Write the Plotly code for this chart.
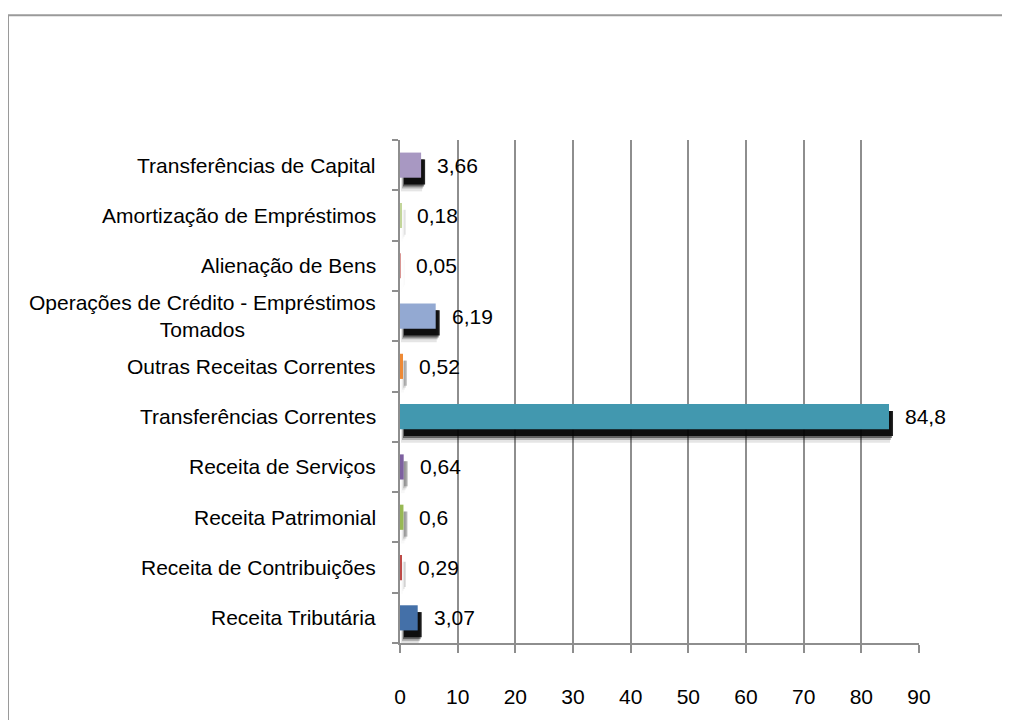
import plotly.graph_objects as go

categories = [
    "Receita Tributária",
    "Receita de Contribuições",
    "Receita Patrimonial",
    "Receita de Serviços",
    "Transferências Correntes",
    "Outras Receitas Correntes",
    "Operações de Crédito - Empréstimos<br>Tomados",
    "Alienação de Bens",
    "Amortização de Empréstimos",
    "Transferências de Capital",
]
values = [3.07, 0.29, 0.6, 0.64, 84.8, 0.52, 6.19, 0.05, 0.18, 3.66]
colors = ["#4470A8", "#BE4B48", "#98B954", "#7D60A0", "#4298AF",
          "#EE8A36", "#93A9D2", "#D99694", "#C3D69B", "#A898C2"]
x_ticks = [0, 10, 20, 30, 40, 50, 60, 70, 80, 90]

# page body margin of 8px is compensated here
W, H = 1002, 712
L, T = 392, 132
pw, ph = 519, 516
R = W - L - pw
B = H - T - ph
ux = 90 / pw               # data units per pixel (x)
uy = len(categories) / ph  # category units per pixel (y)

bar_w = 0.5
fig = go.Figure()

# soft (blurred-looking) shadow: narrow bars get a fainter shadow
strength = [min(1.0, (v / ux) / 12.0) for v in values]
shadow_layers = [
    (11, 3, 0.10), (9, 2, 0.22), (8, 1, 0.45), (7, 0, 0.85),
]
for dy, grow, op in shadow_layers:
    fig.add_trace(go.Bar(
        y=categories, x=values, orientation="h",
        base=[(4 - grow) * ux] * len(values),
        width=bar_w + 2 * grow * uy,
        offset=-bar_w / 2 - dy * uy - grow * uy,
        marker=dict(color="black", line=dict(width=0),
                    opacity=[op * s for s in strength]),
        hoverinfo="skip", showlegend=False,
    ))

fig.add_trace(go.Bar(
    y=categories, x=values, orientation="h",
    width=bar_w,
    marker=dict(color=colors, line=dict(width=0)),
    showlegend=False,
))

font_lab = dict(family="Liberation Sans, Arial", size=21, color="#000")
annotations = []
for c, v in zip(categories, values):
    annotations.append(dict(
        x=v, y=c, xref="x", yref="y", text=str(v).replace(".", ","),
        xanchor="left", yanchor="middle", xshift=14, showarrow=False,
        font=font_lab,
    ))
    annotations.append(dict(
        x=0, y=c, xref="paper", yref="y", text=c,
        xanchor="right", yanchor="middle", xshift=-22, showarrow=False,
        align="center", font=font_lab,
    ))

fig.update_layout(
    width=W, height=H,
    margin=dict(l=L, r=R, t=T, b=B, pad=0),
    paper_bgcolor="white", plot_bgcolor="white",
    barmode="overlay",
    annotations=annotations,
    shapes=[dict(type="rect", xref="paper", yref="paper",
                 x0=(0 - L) / pw, x1=(W + 30 - L) / pw,
                 y0=-(B + 30) / ph, y1=(H - B - 4) / ph,
                 line=dict(color="#9A9A9A", width=2), layer="below")],
    xaxis=dict(
        range=[0, 90], tickvals=x_ticks, ticktext=[str(t) for t in x_ticks],
        showgrid=True, gridcolor="#8E8E8E", gridwidth=2,
        showline=True, linecolor="#8E8E8E", linewidth=2,
        ticks="outside", ticklen=8, tickwidth=2, tickcolor="#8E8E8E",
        zeroline=False, ticklabelstandoff=26,
        tickfont=dict(family="Liberation Sans", size=21, color="#000"),
    ),
    yaxis=dict(
        type="category", categoryorder="array", categoryarray=categories,
        range=[-0.5, len(categories) - 0.5],
        showticklabels=False, showgrid=False,
        showline=True, linecolor="#8E8E8E", linewidth=2,
        ticks="outside", ticklen=6, tickwidth=2, tickcolor="#8E8E8E",
        tickson="boundaries", zeroline=False,
    ),
)

fig.write_html("out.html")
